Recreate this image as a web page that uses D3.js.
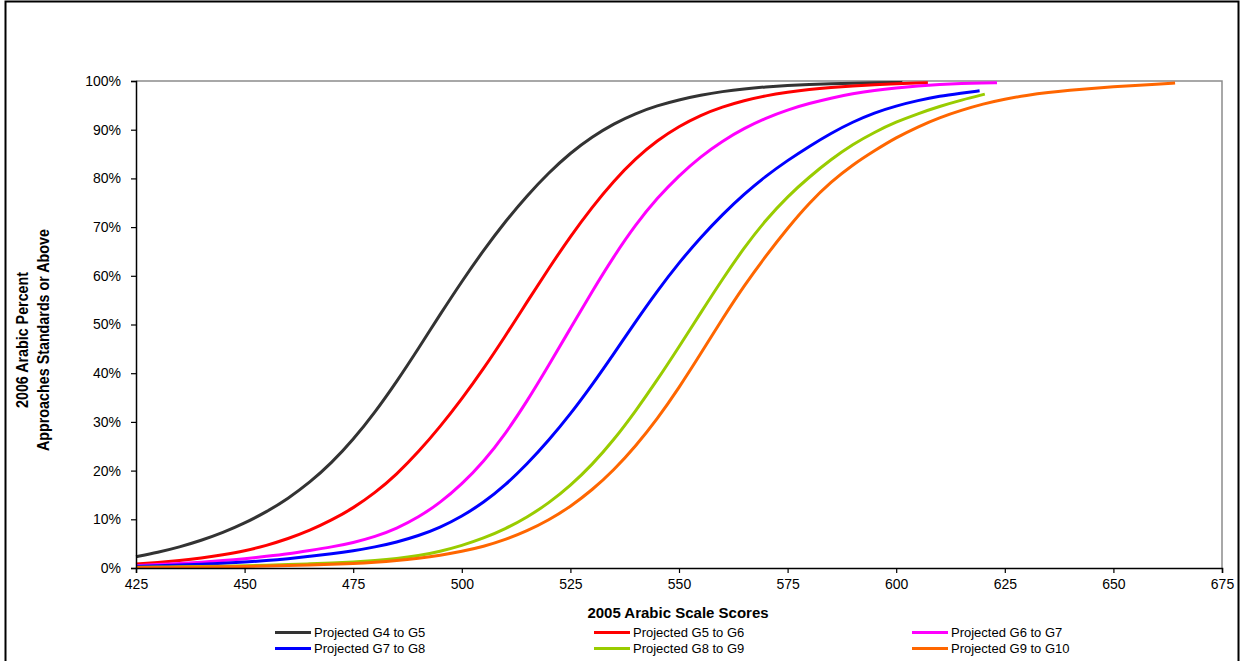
<!DOCTYPE html>
<html>
<head>
<meta charset="utf-8">
<script src="https://cdn.jsdelivr.net/npm/d3@7"></script>
<style>
  html, body { margin: 0; padding: 0; background: #fff; }
  svg { display: block; font-family: "Liberation Sans", Arial, sans-serif; }
</style>
</head>
<body>
<svg id="chart" width="1242" height="661"></svg>
<script>
// 2005 scale score -> projected 2006 percent approaching standards or above
const g4g5Scores = [425,430,435,440,445,450,455,460,465,470,475,480,485,490,495,500,505,510,515,520,525,530,535,540,545,550,555,560,565,570,575,580,585,590,595,600,601.4];
const g4g5Values = [2.3,3.2,4.3,5.65,7.25,9.2,11.5,14.25,17.55,21.55,26.35,31.95,38.25,45.05,52.05,58.85,65.25,71.15,76.45,81.15,85.25,88.55,91.25,93.35,94.95,96.15,97.1,97.85,98.4,98.8,99.1,99.3,99.45,99.55,99.63,99.7,99.72];

const g5g6Scores = [425,430,435,440,445,450,455,460,465,470,475,480,485,490,495,500,505,510,515,520,525,530,535,540,545,550,555,560,565,570,575,580,585,590,595,600,605,607.3];
const g5g6Values = [0.8,1.1,1.5,2.0,2.7,3.5,4.6,6.0,7.7,9.8,12.3,15.4,19.2,23.8,29.0,34.7,40.9,47.6,54.6,61.5,68.1,74.1,79.5,84.1,87.8,90.7,93.0,94.7,96.0,97.0,97.7,98.3,98.7,99.0,99.25,99.45,99.6,99.65];

const g6g7Scores = [425,430,435,440,445,450,455,460,465,470,475,480,485,490,495,500,505,510,515,520,525,530,535,540,545,550,555,560,565,570,575,580,585,590,595,600,605,610,615,620,623.2];
const g6g7Values = [0.5,0.7,0.9,1.2,1.5,1.9,2.4,2.9,3.6,4.3,5.2,6.4,8.1,10.4,13.4,17.2,21.8,27.5,34.2,41.6,49.2,56.8,64.0,70.5,76.0,80.6,84.5,87.7,90.3,92.4,94.1,95.4,96.5,97.4,98.1,98.6,99.0,99.3,99.5,99.6,99.65];

const g7g8Scores = [425,430,435,440,445,450,455,460,465,470,475,480,485,490,495,500,505,510,515,520,525,530,535,540,545,550,555,560,565,570,575,580,585,590,595,600,605,610,615,619.2];
const g7g8Values = [0.35,0.45,0.6,0.75,0.95,1.2,1.5,1.9,2.4,2.9,3.5,4.3,5.3,6.6,8.3,10.6,13.4,17.0,21.3,26.2,31.6,37.6,44.0,50.6,56.9,62.7,67.9,72.6,76.8,80.5,83.7,86.6,89.3,91.6,93.5,94.9,96.0,96.9,97.5,98.0];

const g8g9Scores = [425,430,435,440,445,450,455,460,465,470,475,480,485,490,495,500,505,510,515,520,525,530,535,540,545,550,555,560,565,570,575,580,585,590,595,600,605,610,615,620.4];
const g8g9Values = [0.15,0.2,0.25,0.3,0.35,0.45,0.55,0.7,0.85,1.0,1.2,1.5,1.9,2.5,3.4,4.6,6.1,8.0,10.4,13.3,16.9,21.2,26.3,32.2,38.6,45.4,52.4,59.3,65.8,71.5,76.3,80.3,83.9,87.0,89.5,91.6,93.3,94.8,96.1,97.3];

const g9g10Scores = [425,430,435,440,445,450,455,460,465,470,475,480,485,490,495,500,505,510,515,520,525,530,535,540,545,550,555,560,565,570,575,580,585,590,595,600,605,610,615,620,625,630,635,640,645,650,655,660,664.2];
const g9g10Values = [0.1,0.12,0.15,0.2,0.25,0.3,0.4,0.5,0.6,0.75,0.9,1.15,1.5,2.0,2.6,3.4,4.4,5.8,7.6,9.8,12.6,16.0,20.1,25.0,30.6,37.0,44.0,51.2,58.0,64.1,69.8,75.0,79.3,82.8,85.7,88.4,90.6,92.5,94.0,95.3,96.3,97.05,97.65,98.1,98.5,98.8,99.1,99.35,99.6];

const seriesNames = ["Projected G4 to G5","Projected G5 to G6","Projected G6 to G7","Projected G7 to G8","Projected G8 to G9","Projected G9 to G10"];
const seriesColors = ["#333333","#ff0000","#ff00ff","#0000ff","#99cc00","#ff6600"];

const xTickValues = [425,450,475,500,525,550,575,600,625,650,675];
const yTickValues = [0,10,20,30,40,50,60,70,80,90,100];

const xTitle = "2005 Arabic Scale Scores";
const yTitleLines = ["2006 Arabic Percent","Approaches Standards or Above"];

// assemble series records
const scoreLists = [g4g5Scores,g5g6Scores,g6g7Scores,g7g8Scores,g8g9Scores,g9g10Scores];
const valueLists = [g4g5Values,g5g6Values,g6g7Values,g7g8Values,g8g9Values,g9g10Values];
const series = seriesNames.map((name, i) => ({
  name,
  color: seriesColors[i],
  points: scoreLists[i].map((s, j) => ({ x: s, y: valueLists[i][j] }))
}));

const svg = d3.select("#chart");
const plot = { left: 136, right: 1222, top: 81, bottom: 568 };

const x = d3.scaleLinear().domain([425, 675]).range([plot.left, plot.right]);
const y = d3.scaleLinear().domain([0, 100]).range([plot.bottom, plot.top]);

// outer chart frame
svg.append("rect")
  .attr("x", 5.5).attr("y", 1.5)
  .attr("width", 1233).attr("height", 700)
  .attr("fill", "none").attr("stroke", "#000").attr("stroke-width", 2);

// plot frame: top and right edges
svg.append("path")
  .attr("d", `M${plot.left},${plot.top}H${plot.right}V${plot.bottom}`)
  .attr("fill", "none").attr("stroke", "#8c8c8c").attr("stroke-width", 1.5);

// smoothed curves through the projected points
const line = d3.line()
  .x(d => x(d.x))
  .y(d => y(d.y))
  .curve(d3.curveBasis);

svg.append("g").selectAll("path")
  .data(series)
  .join("path")
  .attr("d", d => line(d.points))
  .attr("fill", "none")
  .attr("stroke", d => d.color)
  .attr("stroke-width", 3)
  .attr("stroke-linejoin", "round");

// axes
const xAxis = d3.axisBottom(x).tickValues(xTickValues).tickSize(5).tickPadding(6).tickFormat(d3.format("d"));
const yAxis = d3.axisLeft(y).tickValues(yTickValues).tickSize(5).tickPadding(10).tickFormat(d => d + "%");

const gx = svg.append("g").attr("transform", `translate(0,${plot.bottom})`).call(xAxis);
const gy = svg.append("g").attr("transform", `translate(${plot.left},0)`).call(yAxis);

[gx, gy].forEach(g => {
  g.select(".domain").attr("stroke", "#000").attr("stroke-width", 1.5);
  g.selectAll(".tick line").attr("stroke", "#000").attr("stroke-width", 1.2);
  g.selectAll(".tick text")
    .attr("fill", "#000")
    .style("font-family", "'Liberation Sans', Arial, sans-serif")
    .style("font-size", "14px");
});

// axis titles
svg.append("text")
  .attr("x", 678).attr("y", 618)
  .attr("text-anchor", "middle")
  .style("font-size", "15px").style("font-weight", "bold")
  .text(xTitle);

const yTitle = svg.append("g").attr("transform", "translate(0,340) rotate(-90)");
yTitle.append("text")
  .attr("x", 0).attr("y", 28)
  .attr("text-anchor", "middle")
  .attr("textLength", 136).attr("lengthAdjust", "spacingAndGlyphs")
  .style("font-size", "16px").style("font-weight", "bold")
  .text(yTitleLines[0]);
yTitle.append("text")
  .attr("x", 0).attr("y", 49)
  .attr("text-anchor", "middle")
  .attr("textLength", 222).attr("lengthAdjust", "spacingAndGlyphs")
  .style("font-size", "16px").style("font-weight", "bold")
  .text(yTitleLines[1]);

// legend: three columns, two rows
const legendCols = [275, 594, 912];
const legendRows = [632.5, 648.5];
const legend = svg.append("g").selectAll("g")
  .data(series)
  .join("g")
  .attr("transform", (d, i) => `translate(${legendCols[i % 3]},${legendRows[Math.floor(i / 3)]})`);

legend.append("line")
  .attr("x1", 0).attr("x2", 36)
  .attr("stroke", d => d.color).attr("stroke-width", 3);

legend.append("text")
  .attr("x", 39).attr("y", 4.5)
  .style("font-size", "13px")
  .attr("fill", "#000")
  .text(d => d.name);
</script>
</body>
</html>
